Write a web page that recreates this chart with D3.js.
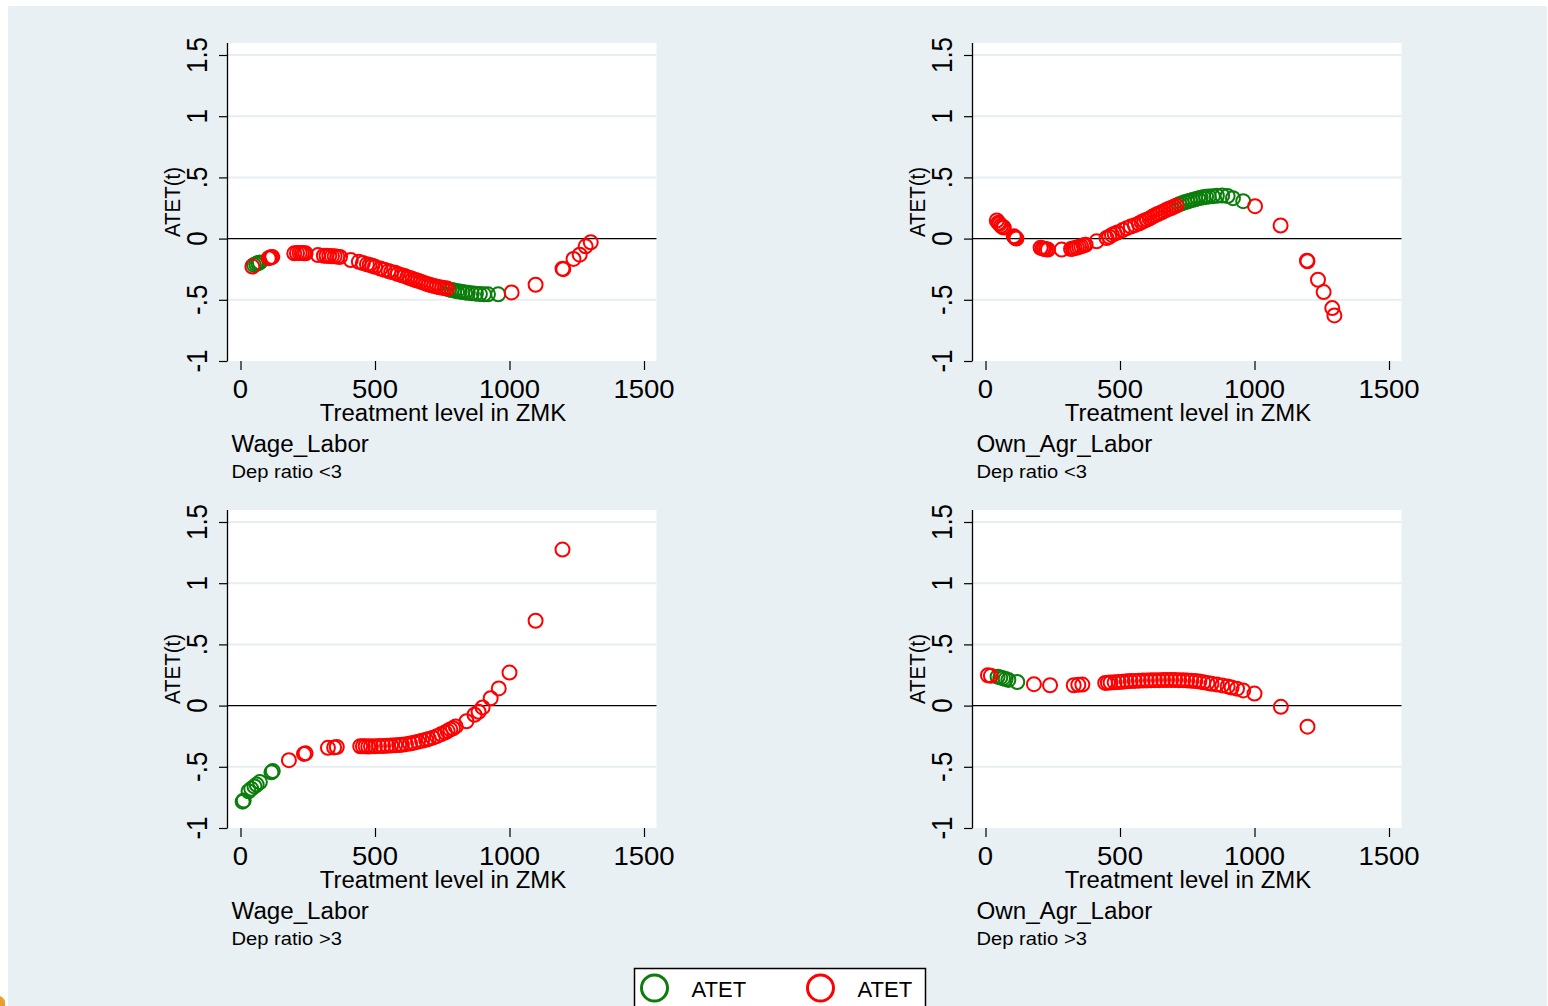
<!DOCTYPE html>
<html><head><meta charset="utf-8">
<script src="https://cdn.jsdelivr.net/npm/d3@7"></script>
<style>html,body{margin:0;padding:0;background:#fff;} svg{display:block;}</style>
</head><body>
<svg id="c" width="1548" height="1006"></svg>
<script>
// ---------- data ----------
const xTicks = [0, 500, 1000, 1500];
const yTicks = [-1, -0.5, 0, 0.5, 1, 1.5];
const yTickLabels = ["-1", "-.5", "0", ".5", "1", "1.5"];
const xTitle = "Treatment level in ZMK";
const yTitle = "ATET(t)";
const panelTitles = ["Wage_Labor", "Own_Agr_Labor", "Wage_Labor", "Own_Agr_Labor"];
const panelNotes = ["Dep ratio <3", "Dep ratio <3", "Dep ratio >3", "Dep ratio >3"];
const legendLabels = ["ATET", "ATET"];

// Panel 1: Wage_Labor, Dep ratio <3
const p1GreenX = [50, 58, 65, 72, 775, 785, 795, 805, 815, 825, 835, 845, 860, 875, 890, 905, 920, 958];
const p1GreenY = [-0.215, -0.208, -0.2, -0.195, -0.415, -0.42, -0.425, -0.43, -0.433, -0.437, -0.44, -0.443, -0.447, -0.45, -0.453, -0.455, -0.455, -0.455];
const p1RedX = [44, 105, 110, 115, 118, 200, 210, 220, 228, 235, 242, 288, 310, 320, 330, 340, 350, 360, 370, 410,
  440, 455, 470, 480, 490, 500, 520, 535, 550, 560, 575, 585, 600, 610, 620, 630, 640, 650, 660, 670, 680, 690, 700,
  710, 720, 730, 740, 750, 760, 768, 1008, 1097, 1197, 1200, 1238, 1261, 1283, 1302];
const p1RedY = [-0.228, -0.16, -0.155, -0.152, -0.15, -0.12, -0.118, -0.117, -0.118, -0.12, -0.12, -0.135, -0.14, -0.14,
  -0.142, -0.145, -0.145, -0.148, -0.15, -0.175, -0.19, -0.2, -0.21, -0.215, -0.222, -0.23, -0.245, -0.255, -0.265,
  -0.272, -0.28, -0.29, -0.3, -0.305, -0.315, -0.322, -0.33, -0.338, -0.345, -0.352, -0.36, -0.368, -0.375, -0.382,
  -0.388, -0.393, -0.398, -0.402, -0.405, -0.408, -0.44, -0.377, -0.246, -0.25, -0.166, -0.131, -0.063, -0.03];

// Panel 2: Own_Agr_Labor, Dep ratio <3
const p2GreenX = [720, 730, 740, 750, 760, 770, 780, 790, 800, 810, 820, 830, 845, 860, 880, 900, 920, 958];
const p2GreenY = [0.28, 0.288, 0.296, 0.303, 0.31, 0.316, 0.322, 0.328, 0.333, 0.337, 0.341, 0.344, 0.347, 0.35, 0.352, 0.348, 0.33, 0.306];
const p2RedX = [42, 48, 52, 58, 64, 68, 105, 108, 112, 115, 205, 212, 218, 225, 232, 283, 318, 325, 332, 340, 348, 356,
  365, 372, 413, 450, 460, 470, 480, 490, 510, 525, 540, 555, 570, 580, 590, 600, 610, 620, 630, 640, 650, 660, 670,
  680, 690, 700, 710, 1002, 1097, 1195, 1197, 1236, 1257, 1289, 1297];
const p2RedY = [0.148, 0.13, 0.12, 0.105, 0.095, 0.09, 0.02, 0.012, 0.005, 0.0, -0.075, -0.08, -0.083, -0.087, -0.09,
  -0.09, -0.085, -0.08, -0.078, -0.073, -0.068, -0.063, -0.055, -0.05, -0.022, 0.005, 0.015, 0.03, 0.04, 0.05, 0.07,
  0.085, 0.098, 0.11, 0.123, 0.135, 0.145, 0.155, 0.165, 0.178, 0.19, 0.2, 0.21, 0.22, 0.232, 0.242, 0.25, 0.26, 0.27,
  0.265, 0.107, -0.18, -0.185, -0.336, -0.437, -0.568, -0.628];

// Panel 3: Wage_Labor, Dep ratio >3
const p3GreenX = [8, 12, 30, 40, 52, 60, 72, 115, 120];
const p3GreenY = [-0.785, -0.775, -0.7, -0.68, -0.66, -0.645, -0.625, -0.545, -0.535];
const p3RedX = [180, 236, 242, 325, 348, 358, 445, 455, 465, 475, 485, 500, 515, 530, 545, 560, 575, 590, 600, 615,
  630, 645, 660, 675, 690, 700, 715, 730, 745, 760, 770, 780, 790, 800, 840, 870, 885, 900, 930, 960, 1000, 1097, 1197];
const p3RedY = [-0.446, -0.395, -0.39, -0.345, -0.342, -0.338, -0.332, -0.333, -0.332, -0.334, -0.333, -0.332, -0.331,
  -0.33, -0.328, -0.326, -0.324, -0.322, -0.32, -0.315, -0.31, -0.303, -0.295, -0.287, -0.279, -0.272, -0.262, -0.25,
  -0.235, -0.22, -0.208, -0.195, -0.185, -0.17, -0.128, -0.075, -0.05, -0.015, 0.06, 0.14, 0.27, 0.693, 1.275];

// Panel 4: Own_Agr_Labor, Dep ratio >3
const p4GreenX = [45, 55, 65, 75, 85, 118];
const p4GreenY = [0.236, 0.23, 0.224, 0.217, 0.21, 0.193];
const p4RedX = [9, 20, 180, 240, 328, 345, 360, 445, 455, 465, 480, 495, 510, 525, 540, 555, 570, 585, 600, 615, 630,
  645, 660, 675, 690, 705, 720, 735, 750, 765, 780, 795, 810, 825, 840, 860, 880, 900, 915, 935, 958, 1000, 1098, 1197];
const p4RedY = [0.248, 0.243, 0.175, 0.166, 0.166, 0.17, 0.172, 0.185, 0.187, 0.188, 0.19, 0.193, 0.195, 0.198, 0.2,
  0.202, 0.204, 0.205, 0.206, 0.207, 0.208, 0.208, 0.209, 0.209, 0.209, 0.209, 0.208, 0.207, 0.206, 0.203, 0.2, 0.196,
  0.19, 0.185, 0.178, 0.172, 0.165, 0.157, 0.148, 0.138, 0.124, 0.098, -0.01, -0.172];

// ---------- style / layout ----------
const BG = "#e9f0f3", GRID = "#e6eef1", GREEN = "#0a7d0a", RED = "#ff0000";
const FONT = "'Liberation Sans', Arial, Helvetica, sans-serif";
const PW = 429, PH = 318;
const panels = [
  {left: 227.5, top: 43, gx: p1GreenX, gy: p1GreenY, rx: p1RedX, ry: p1RedY},
  {left: 972.5, top: 43, gx: p2GreenX, gy: p2GreenY, rx: p2RedX, ry: p2RedY},
  {left: 227.5, top: 510, gx: p3GreenX, gy: p3GreenY, rx: p3RedX, ry: p3RedY},
  {left: 972.5, top: 510, gx: p4GreenX, gy: p4GreenY, rx: p4RedX, ry: p4RedY}
];

const svg = d3.select("#c");
svg.append("rect").attr("x", 0).attr("y", 0).attr("width", 1548).attr("height", 1006).attr("fill", "#fff");
svg.append("rect").attr("x", 8).attr("y", 6).attr("width", 1539).attr("height", 1000).attr("fill", BG);
svg.append("path").attr("d", "M0,996 Q6,998 5,1006 L0,1006 Z").attr("fill", "#e8a030");

function stext(g, x, y, txt, size, anchor, sx, rot) {
  return g.append("text")
    .attr("transform", `translate(${x},${y}) scale(${sx},1)` + (rot ? ` rotate(${rot})` : ""))
    .attr("text-anchor", anchor)
    .attr("font-family", FONT)
    .attr("font-size", size)
    .attr("fill", "#000")
    .text(txt);
}

panels.forEach((p, i) => {
  const g = svg.append("g");
  const x = d3.scaleLinear().domain([0, 1500]).range([p.left + 13, p.left + 416.5]);
  const y = d3.scaleLinear().domain([-1, 1.5]).range([p.top + PH, p.top + 12]);
  const bottom = p.top + PH;

  g.append("rect").attr("x", p.left).attr("y", p.top).attr("width", PW).attr("height", PH).attr("fill", "#fff");

  // grid lines
  g.selectAll("line.grid").data(yTicks.filter(t => t !== 0 && t !== -1)).enter().append("line")
    .attr("x1", p.left).attr("x2", p.left + PW)
    .attr("y1", d => y(d)).attr("y2", d => y(d))
    .attr("stroke", GRID).attr("stroke-width", 2);
  // zero line
  g.append("line").attr("x1", p.left).attr("x2", p.left + PW)
    .attr("y1", y(0)).attr("y2", y(0)).attr("stroke", "#000").attr("stroke-width", 1.1);

  // y axis
  const ya = g.append("g").attr("transform", `translate(${p.left},0)`)
    .call(d3.axisLeft(y).tickValues(yTicks).tickSize(8.5).tickSizeOuter(0).tickFormat((d, k) => yTickLabels[k]));
  ya.select(".domain").remove();
  ya.selectAll(".tick line").attr("stroke", "#000").attr("stroke-width", 1.2);
  ya.selectAll(".tick text").remove();
  g.append("line").attr("x1", p.left).attr("x2", p.left).attr("y1", p.top).attr("y2", bottom)
    .attr("stroke", "#000").attr("stroke-width", 1.3);
  yTicks.forEach((t, k) => {
    stext(g, p.left - 20.5, y(t), yTickLabels[k], 26, "middle", 1.1, -90);
  });

  // x axis
  const xa = g.append("g").attr("transform", `translate(0,${bottom})`)
    .call(d3.axisBottom(x).tickValues(xTicks).tickSize(9).tickSizeOuter(0).tickFormat(d3.format("d")));
  xa.select(".domain").remove();
  xa.selectAll(".tick line").attr("stroke", "#000").attr("stroke-width", 1.2);
  xa.selectAll(".tick text").remove();
  xTicks.forEach(t => {
    stext(g, x(t), bottom + 36.5, String(t), 25, "middle", 1.1);
  });

  // titles
  stext(g, p.left + PW / 2 + 1, bottom + 60, xTitle, 23, "middle", 1.04);
  stext(g, p.left - 48, p.top + PH / 2, yTitle, 20.5, "middle", 1.08, -90);
  stext(g, p.left + 4, bottom + 91, panelTitles[i], 23, "start", 1.05);
  stext(g, p.left + 4, bottom + 117, panelNotes[i], 18.5, "start", 1.09);

  // markers: green first, red on top
  const gpts = p.gx.map((v, k) => [v, p.gy[k]]);
  const rpts = p.rx.map((v, k) => [v, p.ry[k]]);
  g.selectAll("circle.g").data(gpts).enter().append("circle")
    .attr("cx", d => x(d[0])).attr("cy", d => y(d[1])).attr("r", 7)
    .attr("fill", "none").attr("stroke", GREEN).attr("stroke-width", 2);
  g.selectAll("circle.r").data(rpts).enter().append("circle")
    .attr("cx", d => x(d[0])).attr("cy", d => y(d[1])).attr("r", 7)
    .attr("fill", "none").attr("stroke", RED).attr("stroke-width", 2);
});

// legend
const lg = svg.append("g");
lg.append("rect").attr("x", 634.5).attr("y", 968.5).attr("width", 291).attr("height", 50)
  .attr("fill", "#fff").attr("stroke", "#000").attr("stroke-width", 1.5);
const legColors = [GREEN, RED];
const legX = [654.5, 820.5];
legendLabels.forEach((l, k) => {
  lg.append("circle").attr("cx", legX[k]).attr("cy", 988).attr("r", 13)
    .attr("fill", "none").attr("stroke", legColors[k]).attr("stroke-width", 3);
  stext(lg, legX[k] + 37, 997, l, 22, "start", 1.0);
});
</script>
</body></html>
